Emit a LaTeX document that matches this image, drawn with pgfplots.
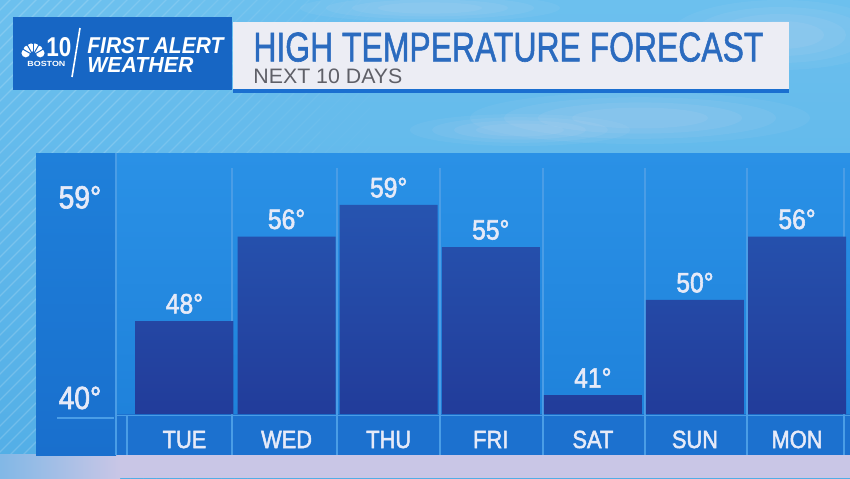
\documentclass[border=0pt]{standalone}
\usepackage{fontspec}
\setmainfont{Liberation Sans}
\newfontfamily\cnd{Liberation Sans}[FakeStretch=0.88,FakeBold=2]
\newfontfamily\cndt{Liberation Sans}[FakeBold=1.5]
\usepackage{graphicx}
\usepackage{pgfplots}
\pgfplotsset{compat=1.18}
\definecolor{skytop}{HTML}{6CC0EE}
\definecolor{sky}{HTML}{52AEE6}
\definecolor{lav}{HTML}{C9C6E6}
\definecolor{coltop}{HTML}{1F80DA}
\definecolor{colbot}{HTML}{196FCD}
\definecolor{plottop}{HTML}{2A91E6}
\definecolor{plotbot}{HTML}{1F82DB}
\definecolor{band}{HTML}{1C71CF}
\definecolor{sep}{HTML}{4A9DE6}
\definecolor{bartop}{HTML}{2654B0}
\definecolor{barbot}{HTML}{223C9A}
\definecolor{labtxt}{HTML}{E6EAF8}
\definecolor{hdrblue}{HTML}{1766C4}
\definecolor{hdrwhite}{HTML}{ECEDF4}
\definecolor{titleblue}{HTML}{2B6BBF}
\definecolor{subgrey}{HTML}{5F6068}
\definecolor{lineblue}{HTML}{1A6FD0}
\definecolor{cloud}{HTML}{E8E4F4}
\begin{document}
\begin{tikzpicture}[x=0.5pt,y=-0.5pt]
\useasboundingbox (0,0) rectangle (850,478);
\clip (0,0) rectangle (850,478);
% sky background
\fill[top color=skytop, bottom color=sky] (0,0) rectangle (850,478);
% soft clouds
\foreach \s/\o in {1.0/0.06,0.8/0.07,0.6/0.08,0.4/0.08} {
  \fill[cloud,opacity=\o] (640,118) ellipse ({170*\s} and {26*\s});
  \fill[cloud,opacity=\o] (780,35) ellipse ({110*\s} and {35*\s});
  \fill[cloud,opacity=\o] (520,130) ellipse ({110*\s} and {16*\s});
  \fill[cloud,opacity=\o] (430,8) ellipse ({130*\s} and {14*\s});
}
% stripes, fading to the right
\foreach \xa/\xb/\o in {0/120/0.17,120/200/0.13,200/260/0.09,260/320/0.05,320/370/0.025} {
\begin{scope}
\clip (\xa,0) rectangle (\xb,478);
\foreach \i in {-520,-507,...,370} \draw[white,opacity=\o,line width=0.6pt] (\i,478) -- ++(520,-520);
\end{scope}
}
% bottom lavender strip
\fill[left color=sky!60!lav, right color=lav] (0,454) rectangle (120,478);
\fill[lav] (120,454) rectangle (850,478);
% panel
\fill[top color=coltop, bottom color=colbot] (36,153) rectangle (116,455);
\fill[top color=plottop, bottom color=plotbot] (116,153) rectangle (850,414);
\fill[band] (116,414) rectangle (850,455);
% separators
\draw[sep,line width=0.6pt] (116,153) -- (116,455);
\draw[sep,line width=0.6pt] (127,416) -- (127,455);
\foreach \x in {232,337,440,543,645,747,844} \draw[sep,line width=0.6pt] (\x,168) -- (\x,455);
\draw[sep,line width=0.7pt] (116,415.5) -- (850,415.5);
\draw[sep,line width=0.6pt] (57,418) -- (114,418);
% chart
\begin{axis}[
  at={(59pt,-207pt)}, anchor=south west,
  scale only axis, width=365pt, height=130.5pt,
  xmin=-0.651, xmax=6.499, ymin=39.2, ymax=63.92,
  axis line style={draw=none}, tick style={draw=none}, major tick length=0pt,
  /pgf/number format/assume math mode=true,
  ybar, bar width=49pt, bar shift=0pt,
  xtick={0,1,2,3,4,5,6},
  xticklabels={TUE,WED,THU,FRI,SAT,SUN,MON},
  ytick={40,59}, yticklabels={40°,59°},
  xticklabel style={font=\cnd\fontsize{12.4pt}{12.4pt}\selectfont, text=labtxt, anchor=base, inner sep=0pt, yshift=-17pt},
  yticklabel style={font=\cnd\fontsize{16pt}{16pt}\selectfont, text=labtxt, anchor=center, inner sep=0pt, xshift=-19pt, yshift=3.8pt},
  point meta=y,
  nodes near coords={\pgfmathprintnumber{\pgfplotspointmeta}°},
  nodes near coords style={font=\cnd\fontsize{14pt}{14pt}\selectfont, text=labtxt, anchor=south, inner sep=0pt, yshift=3.5pt},
]
\addplot[draw=none, top color=bartop, bottom color=barbot] coordinates {
 (0,48) (1,56) (2,59) (3,55) (4,41) (5,50) (6,56)};
\end{axis}
% header
\fill[hdrblue] (13,17) rectangle (232,90);
\fill[hdrwhite] (233,22) rectangle (789,91);
\fill[lineblue] (233,89) rectangle (789,93);
% peacock
\foreach \a in {-165,-135,-105,-75,-45,-15} \fill[white] (33,55) ++(\a:7.5) circle[radius=4.3];
\foreach \a in {-150,-120,-90,-60,-30} \draw[hdrblue,line width=0.5pt] (33,55) -- ++(\a:14);
\node[anchor=north west, inner sep=0pt, text=white] at (46,37) {\resizebox{12.5pt}{9.5pt}{\bfseries 10}};
\node[anchor=north west, inner sep=0pt, text=white] at (27,61) {\resizebox{19pt}{2.6pt}{\bfseries BOSTON}};
\draw[white,line width=0.8pt] (72,77) -- (80,28);
\node[anchor=north west, inner sep=0pt, text=white] at (87,37) {\resizebox{68pt}{8pt}{\bfseries\itshape FIRST ALERT}};
\node[anchor=north west, inner sep=0pt, text=white] at (87,57) {\resizebox{53pt}{7.5pt}{\bfseries\itshape WEATHER}};
\node[anchor=north west, inner sep=0pt, text=titleblue] at (253,32) {\resizebox{255pt}{14.5pt}{\cndt HIGH TEMPERATURE FORECAST}};
\node[anchor=north west, inner sep=0pt, text=subgrey] at (253,68.5) {\resizebox{74.5pt}{7.3pt}{NEXT 10 DAYS}};
\end{tikzpicture}
\end{document}
